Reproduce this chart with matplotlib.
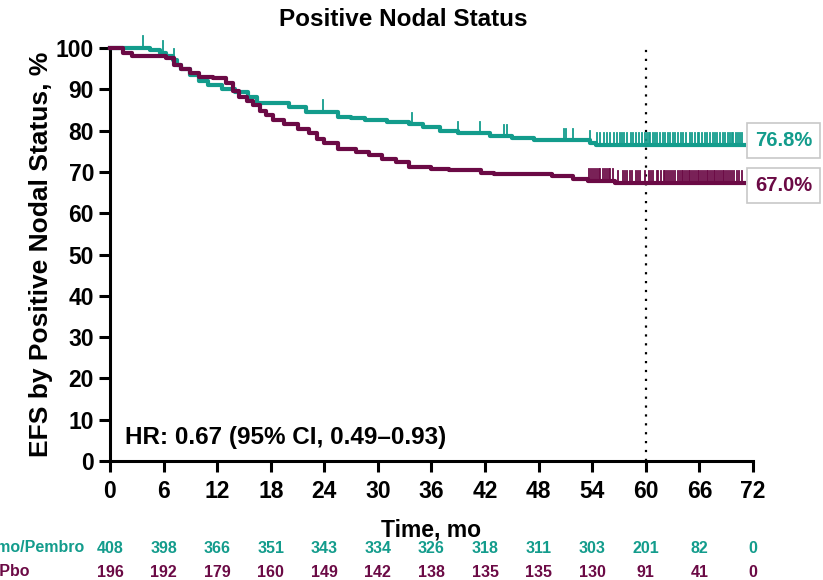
import numpy as np
import matplotlib
matplotlib.use("Agg")
import matplotlib.pyplot as plt
from matplotlib import font_manager

plt.rcParams['font.family'] = ['Liberation Sans', 'DejaVu Sans']

teal = '#139c8c'
plum = '#6b0a45'

# Kaplan-Meier steps
pembro_t = [0, 4.5, 5.6, 6.3, 7.0, 7.5, 8.0, 9.0, 10.0, 11.0, 12.5, 14.0, 15.5, 16.5, 20.0,
            22.0, 25.5, 27.0, 28.5, 31.0, 33.5, 35.0, 37.0, 39.0, 42.5, 45.0, 47.5, 53.8, 54.4, 71.0]
pembro_s = [100, 99.5, 98.8, 98.0, 97.0, 96.0, 95.0, 93.5, 92.0, 91.0, 90.0, 89.3, 88.2, 86.7, 85.8,
            84.6, 83.4, 83.0, 82.5, 82.0, 81.5, 80.8, 80.0, 79.3, 78.6, 78.1, 77.7, 77.1, 76.6, 76.6]
pbo_t = [0, 1.5, 2.5, 6.3, 7.2, 8.0, 9.0, 10.0, 11.5, 13.0, 13.8, 14.5, 15.3, 16.0, 16.8, 17.5,
         18.3, 19.5, 21.0, 22.3, 23.2, 24.0, 25.5, 27.5, 29.0, 30.5, 32.0, 33.5, 36.0, 38.0, 41.5,
         43.0, 49.5, 51.9, 53.5, 56.6, 71.0]
pbo_s = [100, 98.7, 98.0, 97.5, 96.0, 95.0, 94.0, 93.0, 92.7, 91.5, 89.5, 88.2, 87.2, 86.2, 84.8, 83.8,
         82.5, 81.5, 80.3, 79.4, 78.0, 76.9, 75.6, 74.8, 74.0, 73.2, 72.5, 71.2, 70.8, 70.4, 69.8,
         69.4, 69.0, 68.3, 67.9, 67.4, 67.4]

# censoring marks
pembro_cens = [3.7, 5.9, 7.2, 23.8, 33.8, 39.0, 41.4, 44.1, 44.5, 50.8, 51.1, 51.9, 53.8,
               54.5, 54.9, 55.3, 55.7, 56.0, 56.4, 56.8, 57.1, 57.3, 57.6, 57.9, 58.3, 58.6, 58.9,
               59.2, 59.6, 59.9, 60.1, 60.3, 60.5, 60.8, 61.0, 61.3, 61.6, 61.9, 62.2, 62.5, 62.7,
               63.0, 63.3, 63.6, 63.9, 64.2, 64.5, 64.9, 65.2, 65.5, 65.8, 66.0, 66.3, 66.6, 66.9,
               67.2, 67.5, 67.7, 68.0, 68.3, 68.6, 68.9, 69.2, 69.4, 69.6, 69.8, 70.1, 70.3, 70.6,
               70.8]
pbo_cens = [53.6, 53.9, 54.1, 54.3, 54.5, 54.7, 54.9, 55.2, 55.4, 55.6, 55.9, 56.0, 56.3, 56.9,
            57.4, 57.7, 57.9, 58.2, 58.5, 58.9, 59.1, 59.4, 59.9, 60.3, 60.6, 60.8, 61.2, 61.4,
            61.7, 62.0, 62.2, 62.4, 62.6, 62.8, 63.0, 63.3, 63.6, 63.8, 64.0, 64.2, 64.4, 64.6,
            64.8, 65.0, 65.2, 65.4, 65.6, 65.8, 66.0, 66.2, 66.4, 66.6, 66.8, 67.0, 67.2, 67.4,
            67.6, 67.8, 68.0, 68.2, 68.4, 68.6, 68.8, 69.0, 69.2, 69.4, 69.6, 69.9, 70.2, 70.4,
            70.8]

risk_times = [0, 6, 12, 18, 24, 30, 36, 42, 48, 54, 60, 66, 72]
pembro_risk = [408, 398, 366, 351, 343, 334, 326, 318, 311, 303, 201, 82, 0]
pbo_risk = [196, 192, 179, 160, 149, 142, 138, 135, 135, 130, 91, 41, 0]

# narrow face for the at-risk table if it is there
try:
    font_manager.findfont(font_manager.FontProperties(family='Liberation Sans Narrow', weight='bold'),
                          fallback_to_default=False)
    risk_family, risk_size = 'Liberation Sans Narrow', 13
except Exception:
    risk_family, risk_size = 'Liberation Sans', 11.5

fig = plt.figure(figsize=(8.23, 5.80), dpi=100)
ax = fig.add_axes([110 / 823, 119 / 580, 643 / 823, 413 / 580])


def step_value(times, surv, t):
    i = np.searchsorted(times, t, side='right') - 1
    return surv[i]


for t, s, cens, col in [(pembro_t, pembro_s, pembro_cens, teal),
                        (pbo_t, pbo_s, pbo_cens, plum)]:
    ax.step(t, s, where='post', color=col, lw=3.0, clip_on=False, zorder=3)
    for c in cens:
        y = step_value(t, s, c)
        ax.plot([c, c], [y, y + 2.8], color=col, lw=1.3, clip_on=False, zorder=3)

ax.axvline(60, color='black', ls=(0, (1, 3)), lw=1.6, zorder=1)

ax.set_xlim(0, 72)
ax.set_ylim(0, 100)
ax.set_xticks(risk_times)
ax.set_yticks(range(0, 101, 10))
for s in ['top', 'right']:
    ax.spines[s].set_visible(False)
for s in ['left', 'bottom']:
    ax.spines[s].set_linewidth(2.2)
ax.tick_params(width=2.2, length=8, labelsize=16.5)
ax.tick_params(axis='x', pad=6)
for lab in ax.get_xticklabels() + ax.get_yticklabels():
    lab.set_fontweight('bold')

ax.set_xlabel('Time, mo', fontsize=16.5, fontweight='bold', labelpad=11)
ax.set_ylabel('EFS by Positive Nodal Status, %', fontsize=19, fontweight='bold', labelpad=2)
fig.text(403 / 823, 1 - 19 / 580, 'Positive Nodal Status', fontsize=17.5, fontweight='bold',
         ha='center', va='center')

ax.text(1.7, 5.8, 'HR: 0.67 (95% CI, 0.49\u20130.93)', fontsize=17.5, fontweight='bold',
        va='center', ha='left')

box = dict(boxstyle='square,pad=0.4', fc='white', ec='#c8c8c8', lw=1.2)
ax.text(72.2, 77.6, '76.8%', color=teal, fontsize=14.5, fontweight='bold', va='center',
        ha='left', bbox=box, clip_on=False)
ax.text(72.2, 66.6, '67.0%', color=plum, fontsize=14.5, fontweight='bold', va='center',
        ha='left', bbox=box, clip_on=False)

# number at risk
tr = ax.get_xaxis_transform()
for vals, col, yy in [(pembro_risk, teal, -0.211), (pbo_risk, plum, -0.269)]:
    for t, n in zip(risk_times, vals):
        ax.text(t, yy, str(n), color=col, fontsize=risk_size, fontweight='bold', ha='center',
                va='center', transform=tr, clip_on=False, family=risk_family)
fig.text(84 / 823, 1 - 548 / 580, 'Pembro + Chemo/Pembro', color=teal, fontsize=risk_size,
         fontweight='bold', ha='right', va='center', family=risk_family)
fig.text(30 / 823, 1 - 572 / 580, 'Pbo + Chemo/Pbo', color=plum, fontsize=risk_size,
         fontweight='bold', ha='right', va='center', family=risk_family)

fig.savefig('out.png', dpi=100)
